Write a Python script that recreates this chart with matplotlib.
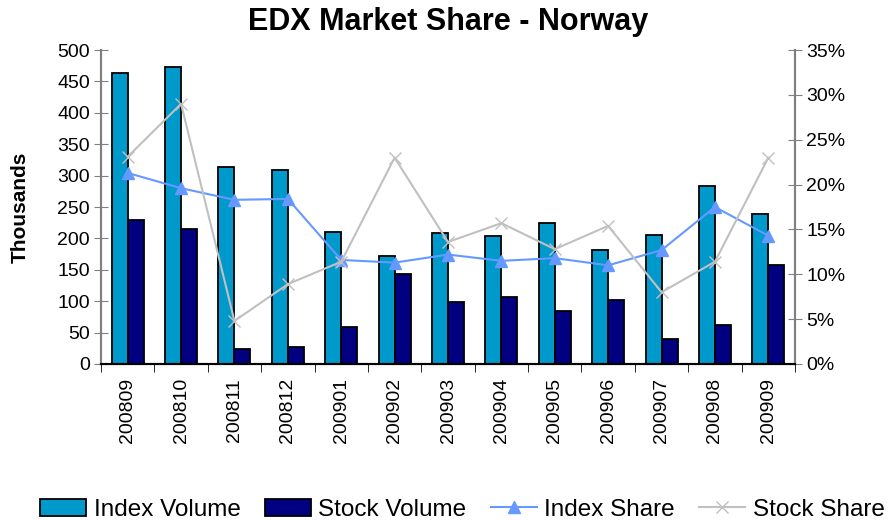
import matplotlib.pyplot as plt
import numpy as np
from matplotlib.ticker import FuncFormatter, MultipleLocator

plt.rcParams['font.family'] = ['Liberation Sans', 'DejaVu Sans']

months = ["200809", "200810", "200811", "200812", "200901", "200902", "200903",
          "200904", "200905", "200906", "200907", "200908", "200909"]
index_volume = [463, 473, 314, 309, 210, 172, 208, 204, 224, 181, 205, 283, 239]
stock_volume = [229, 215, 24, 27, 59, 143, 99, 107, 84, 102, 40, 62, 158]
index_share = [21.3, 19.6, 18.3, 18.4, 11.6, 11.3, 12.2, 11.5, 11.8, 11.0, 12.7, 17.5, 14.3]
stock_share = [23.1, 29.0, 4.8, 8.9, 11.4, 23.0, 13.6, 15.7, 12.8, 15.4, 8.0, 11.4, 23.0]

fig = plt.figure(figsize=(8.96, 5.2), dpi=100)
ax = fig.add_axes([0.1127, 0.30, 0.7746, 0.6038])
ax2 = ax.twinx()

x = np.arange(len(months))
w = 0.3
b1 = ax.bar(x - w / 2, index_volume, w, color="#0099CC", edgecolor="black", linewidth=1.3,
            label="Index Volume", zorder=2)
b2 = ax.bar(x + w / 2, stock_volume, w, color="#000080", edgecolor="black", linewidth=1.3,
            label="Stock Volume", zorder=2)

l1, = ax2.plot(x, index_share, color="#6699FF", marker="^", markersize=8, linewidth=1.5,
               label="Index Share")
l2, = ax2.plot(x, stock_share, color="#C0C0C0", marker="x", markersize=8, linewidth=1.5,
               label="Stock Share")

ax.set_xlim(-0.5, len(months) - 0.5)
ax.set_ylim(0, 500)
ax2.set_ylim(0, 35)
ax.yaxis.set_major_locator(MultipleLocator(50))
ax2.yaxis.set_major_locator(MultipleLocator(5))
ax2.yaxis.set_major_formatter(FuncFormatter(lambda v, p: f"{v:.0f}%"))

ax.set_xticks(x)
ax.set_xticklabels(months, rotation=90, fontsize=14)
ax.set_xticks(np.arange(-0.5, len(months)), minor=True)
ax.tick_params(axis="x", which="major", length=0, pad=10)
ax.tick_params(axis="x", which="minor", length=6, direction="out", color="black")
ax.tick_params(axis="y", labelsize=14, direction="inout", length=10, color="#808080", pad=3)
ax2.tick_params(axis="y", labelsize=14, direction="inout", length=10, color="#808080", pad=3)

for a in (ax, ax2):
    a.spines["top"].set_visible(False)
    a.spines["left"].set_color("#808080")
    a.spines["right"].set_color("#808080")
    a.spines["left"].set_linewidth(1.5)
    a.spines["right"].set_linewidth(1.5)
    a.spines["bottom"].set_color("black")
    a.spines["bottom"].set_linewidth(1.5)

ax.set_ylabel("Thousands", fontsize=15, fontweight="bold", labelpad=20)
fig.text(0.5, 0.958, "EDX Market Share - Norway", fontsize=22, fontweight="bold",
         ha="center", va="center")

fig.legend([b1, b2, l1, l2], ["Index Volume", "Stock Volume", "Index Share", "Stock Share"],
           loc="center", bbox_to_anchor=(0.516, 0.02), ncol=4, frameon=False,
           fontsize=17.5, handlelength=1.9, handletextpad=0.3, columnspacing=1.0)

fig.savefig("out.png", dpi=100)
